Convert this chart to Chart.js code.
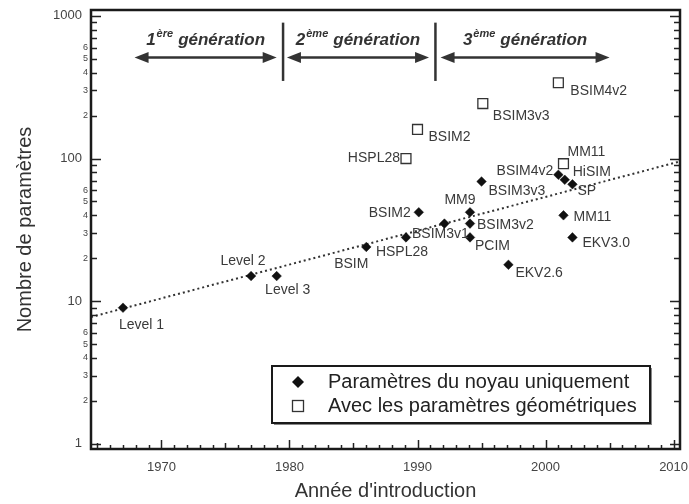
<!DOCTYPE html>
<html>
<head>
<meta charset="utf-8">
<script src="https://cdn.jsdelivr.net/npm/chart.js@4.4.1/dist/chart.umd.min.js"></script>
<style>
  html, body { margin: 0; padding: 0; background: #fff; }
</style>
</head>
<body>
<canvas id="myChart" width="689" height="504"></canvas>
<script>
// modèles "noyau uniquement" (losanges noirs)
var coreNames = ["Level 1", "Level 2", "Level 3", "BSIM", "HSPL28", "BSIM2", "BSIM3v1", "MM9", "BSIM3v2", "PCIM",
  "BSIM3v3", "EKV2.6", "BSIM4v2", "HiSIM", "SP", "MM11", "EKV3.0"];
var coreYears = [1967, 1977, 1979, 1986, 1989.1, 1990.1, 1992.1, 1994.1, 1994.1, 1994.1,
  1995, 1997.1, 2001, 2001.5, 2002.1, 2001.4, 2002.1];
var coreParams = [9, 15, 15, 24, 28, 42, 35, 42, 35, 28,
  69, 18, 77, 71, 66, 40, 28];

// avec les paramètres géométriques (carrés blancs)
var geoNames = ["HSPL28", "BSIM2", "BSIM3v3", "MM11", "BSIM4v2"];
var geoYears = [1989.1, 1990, 1995.1, 2001.4, 2001];
var geoParams = [100, 160, 243, 92, 340];

// tendance (droite en pointillés)
var trendYears = [1964.5, 2010.5];
var trendParams = [7.75, 95.5];

// générations
var genNumbers = ["1", "2", "3"];
var genSup = ["ère", "ème", "ème"];
var genStart = [1967.9, 1979.8, 1991.8];
var genEnd = [1979.0, 1990.9, 2005.0];
var genDividers = [1979.5, 1991.4];

var yearLabels = [1970, 1980, 1990, 2000, 2010];
var yMajorLabels = [1, 10, 100, 1000];
var yMinorLabels = [2, 3, 4, 5, 6];

// placement des étiquettes [dx, dy, align]
var coreLabelPos = [
  [-4, 17, "left"], [-8, -15, "center"], [11, 14, "center"], [-15, 17, "center"], [-4, 15, "center"],
  [-8, 1, "right"], [-4, 11, "center"], [-10, -12, "center"], [7, 2, "left"], [5, 9, "left"],
  [7, 10, "left"], [7, 8, "left"], [-5, -4, "right"], [8, -8, "left"], [5, 7, "left"],
  [10, 2, "left"], [10, 6, "left"]
];
var geoLabelPos = [[-6, 0, "right"], [11, 8, "left"], [10, 13, "left"], [4, -12, "left"], [12, 8, "left"]];

var FONT = '"Liberation Sans", Arial, Helvetica, sans-serif';

function toPoints(xs, ys) {
  return xs.map(function (v, i) { return { x: v, y: ys[i] }; });
}

var framePlugin = {
  id: "frameAndTicks",
  afterDraw: function (chart) {
    var ctx = chart.ctx, a = chart.chartArea, x = chart.scales.x, y = chart.scales.y;
    ctx.save();
    ctx.strokeStyle = "#222";

    // ticks de l'axe y (gauche et droite)
    ctx.lineWidth = 1.5;
    [1, 10, 100, 1000].forEach(function (d) {
      for (var m = 1; m <= 9; m++) {
        var v = m * d;
        if (v > y.max) break;
        var py = Math.round(y.getPixelForValue(v)) + 0.5;
        var len = m === 1 ? 10 : 6;
        ctx.beginPath();
        ctx.moveTo(a.left, py); ctx.lineTo(a.left + len, py);
        ctx.moveTo(a.right, py); ctx.lineTo(a.right - len, py);
        ctx.stroke();
      }
    });

    // ticks de l'axe x
    for (var yr = 1965; yr <= 2010; yr++) {
      var px = Math.round(x.getPixelForValue(yr)) + 0.5;
      var l = yr % 10 === 0 ? 9 : (yr % 5 === 0 ? 6 : 4);
      ctx.beginPath();
      ctx.moveTo(px, a.bottom); ctx.lineTo(px, a.bottom - l);
      ctx.stroke();
    }

    // cadre
    ctx.lineWidth = 2.5;
    ctx.strokeStyle = "#1a1a1a";
    ctx.strokeRect(a.left, a.top, a.right - a.left, a.bottom - a.top);

    // étiquettes des axes
    ctx.fillStyle = "#444";
    ctx.textBaseline = "middle";
    ctx.textAlign = "right";
    ctx.font = "13px " + FONT;
    yMajorLabels.forEach(function (v) {
      ctx.fillText(String(v), a.left - 9, y.getPixelForValue(v));
    });
    ctx.font = "9px " + FONT;
    [1, 10, 100].forEach(function (d) {
      yMinorLabels.forEach(function (m) {
        ctx.fillText(String(m), a.left - 3, y.getPixelForValue(m * d));
      });
    });
    ctx.textAlign = "center";
    ctx.font = "13px " + FONT;
    yearLabels.forEach(function (v) {
      ctx.fillText(String(v), x.getPixelForValue(v), a.bottom + 18);
    });

    // titres des axes
    ctx.fillStyle = "#333";
    ctx.font = "20px " + FONT;
    ctx.textBaseline = "alphabetic";
    ctx.fillText("Année d'introduction", (a.left + a.right) / 2, 497);
    ctx.save();
    ctx.translate(31, (a.top + a.bottom) / 2);
    ctx.rotate(-Math.PI / 2);
    ctx.fillText("Nombre de paramètres", 0, 0);
    ctx.restore();

    // générations
    var arrowY = y.getPixelForValue(510);
    var textY = y.getPixelForValue(626);
    ctx.strokeStyle = "#333";
    ctx.fillStyle = "#333";
    ctx.lineWidth = 2.5;
    genDividers.forEach(function (g) {
      var px = x.getPixelForValue(g);
      ctx.beginPath();
      ctx.moveTo(px, y.getPixelForValue(897));
      ctx.lineTo(px, y.getPixelForValue(350));
      ctx.stroke();
    });
    genStart.forEach(function (s, i) {
      var x0 = x.getPixelForValue(s), x1 = x.getPixelForValue(genEnd[i]);
      var head = 14, hw = 5.5;
      ctx.lineWidth = 2.5;
      ctx.beginPath();
      ctx.moveTo(x0 + head - 2, arrowY); ctx.lineTo(x1 - head + 2, arrowY);
      ctx.stroke();
      ctx.beginPath();
      ctx.moveTo(x0, arrowY); ctx.lineTo(x0 + head, arrowY - hw); ctx.lineTo(x0 + head, arrowY + hw);
      ctx.closePath(); ctx.fill();
      ctx.beginPath();
      ctx.moveTo(x1, arrowY); ctx.lineTo(x1 - head, arrowY - hw); ctx.lineTo(x1 - head, arrowY + hw);
      ctx.closePath(); ctx.fill();

      var big = "italic bold 17px " + FONT, small = "italic bold 11px " + FONT;
      ctx.font = big;
      var wNum = ctx.measureText(genNumbers[i]).width;
      var wGen = ctx.measureText("génération").width;
      ctx.font = small;
      var wSup = ctx.measureText(genSup[i]).width;
      var total = wNum + wSup + 6 + wGen;
      var sx = (x0 + x1) / 2 - total / 2;
      ctx.textAlign = "left";
      ctx.font = big;
      ctx.fillText(genNumbers[i], sx, textY);
      ctx.font = small;
      ctx.fillText(genSup[i], sx + wNum + 1, textY - 8);
      ctx.font = big;
      ctx.fillText("génération", sx + wNum + wSup + 6, textY);
    });

    // légende
    var lx0 = a.right - 408, lx1 = a.right - 30, ly0 = a.bottom - 83, ly1 = a.bottom - 26;
    ctx.fillStyle = "#888";
    ctx.fillRect(lx0 + 2, ly0 + 2, lx1 - lx0, ly1 - ly0);
    ctx.fillStyle = "#fff";
    ctx.fillRect(lx0, ly0, lx1 - lx0, ly1 - ly0);
    ctx.lineWidth = 2;
    ctx.strokeStyle = "#1a1a1a";
    ctx.strokeRect(lx0, ly0, lx1 - lx0, ly1 - ly0);
    var mx = lx0 + 26, r1 = ly0 + 16, r2 = ly0 + 40;
    ctx.fillStyle = "#111";
    ctx.beginPath();
    ctx.moveTo(mx, r1 - 6); ctx.lineTo(mx + 6, r1); ctx.lineTo(mx, r1 + 6); ctx.lineTo(mx - 6, r1);
    ctx.closePath(); ctx.fill();
    ctx.lineWidth = 1.3;
    ctx.strokeStyle = "#333";
    ctx.strokeRect(mx - 5.5, r2 - 5.5, 11, 11);
    ctx.fillStyle = "#222";
    ctx.font = "20px " + FONT;
    ctx.textAlign = "left";
    ctx.textBaseline = "alphabetic";
    ctx.fillText("Paramètres du noyau uniquement", lx0 + 56, ly0 + 22);
    ctx.fillText("Avec les paramètres géométriques", lx0 + 56, ly0 + 46);
    ctx.restore();
  }
};

var labelPlugin = {
  id: "pointLabels",
  afterDatasetsDraw: function (chart) {
    var ctx = chart.ctx;
    ctx.save();
    ctx.font = "14px " + FONT;
    ctx.fillStyle = "#3a3a3a";
    ctx.textBaseline = "middle";
    [[0, coreNames, coreLabelPos], [1, geoNames, geoLabelPos]].forEach(function (set) {
      chart.getDatasetMeta(set[0]).data.forEach(function (pt, i) {
        var p = set[2][i];
        ctx.textAlign = p[2];
        ctx.fillText(set[1][i], pt.x + p[0], pt.y + p[1]);
      });
    });
    ctx.restore();
  }
};

var canvas = document.getElementById("myChart");
var myChart = new Chart(canvas, {
  type: "scatter",
  data: {
    datasets: [
      {
        label: "Paramètres du noyau uniquement",
        data: toPoints(coreYears, coreParams),
        pointStyle: "rectRot",
        pointRadius: 4.8,
        backgroundColor: "#111",
        borderColor: "#111",
        borderWidth: 0.5
      },
      {
        label: "Avec les paramètres géométriques",
        data: toPoints(geoYears, geoParams),
        pointStyle: "rect",
        pointRadius: 7,
        backgroundColor: "#fff",
        borderColor: "#333",
        borderWidth: 1.3
      },
      {
        label: "Tendance",
        type: "line",
        data: toPoints(trendYears, trendParams),
        showLine: true,
        pointRadius: 0,
        borderColor: "#333",
        borderWidth: 2,
        borderDash: [2, 3],
        fill: false
      }
    ]
  },
  options: {
    responsive: false,
    animation: false,
    events: [],
    layout: { padding: { top: 10, right: 9, left: 0, bottom: 0 } },
    plugins: { legend: { display: false }, tooltip: { enabled: false } },
    scales: {
      x: {
        type: "linear",
        min: 1964.5,
        max: 2010.5,
        ticks: { display: false },
        grid: { display: false },
        border: { display: false },
        afterFit: function (s) { s.height = 55; }
      },
      y: {
        type: "logarithmic",
        min: 0.92,
        max: 1100,
        ticks: { display: false },
        grid: { display: false },
        border: { display: false },
        afterFit: function (s) { s.width = 91; }
      }
    }
  },
  plugins: [labelPlugin, framePlugin]
});
</script>
</body>
</html>
